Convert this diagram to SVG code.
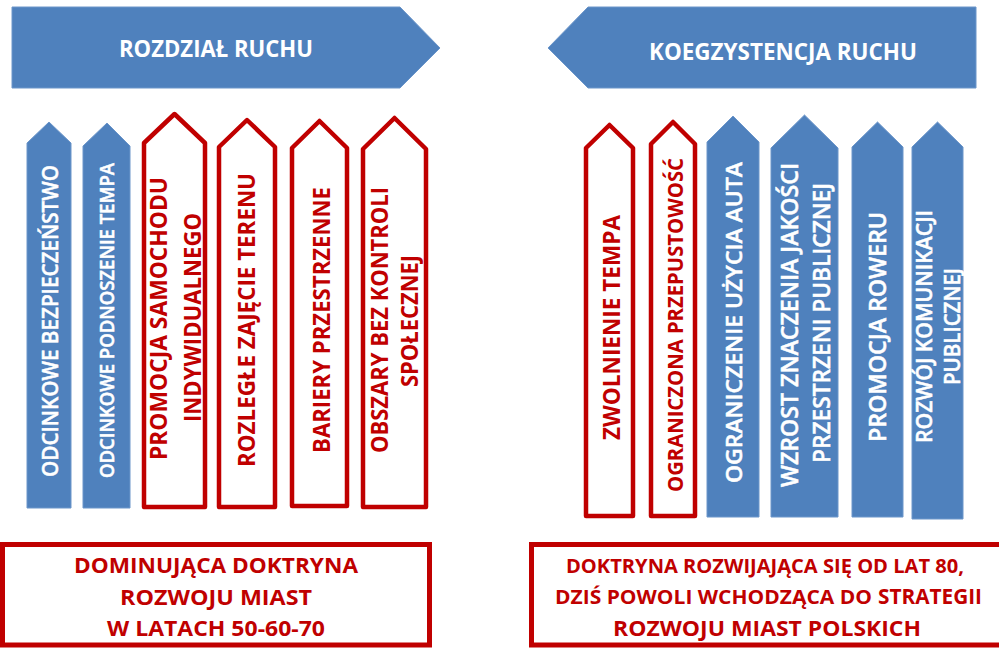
<svg xmlns="http://www.w3.org/2000/svg" width="999" height="648" viewBox="0 0 999 648">
<style>
.bg{fill:#ffffff}
.blue{fill:#4F81BD;stroke:#6C96CA;stroke-width:1}
.red{fill:#ffffff;stroke:#C00000;stroke-width:4.5;stroke-linejoin:round}
.box{fill:#ffffff;stroke:#C00000;stroke-width:5}
text{font-family:"Open Sans","Noto Sans","Liberation Sans",sans-serif;text-anchor:middle}
.wt{fill:#ffffff;font-weight:600;stroke:#ffffff;stroke-width:0.5}
.wb{fill:#ffffff;font-weight:700;font-size:23px}
.rt{fill:#C00000;font-weight:700}
</style>
<rect class="bg" x="0" y="0" width="999" height="648"/>

<g id="rozdzial-ruchu">
<path class="blue" d="M12,7 L400,7 L440,48 L400,88 L12,88 Z"/>
<text class="wb" x="216" y="57" textLength="194" lengthAdjust="spacingAndGlyphs">ROZDZIAŁ RUCHU</text>
</g>
<g id="koegzystencja-ruchu">
<path class="blue" d="M548,48 L588,7 L976,7 L976,88 L588,88 Z"/>
<text class="wb" x="783" y="60" textLength="268" lengthAdjust="spacingAndGlyphs">KOEGZYSTENCJA RUCHU</text>
</g>

<g id="col1">
<path class="blue" d="M27,508 L27,143 L49,122 L71,143 L71,508 Z"/>
<text class="wt" font-size="22" transform="translate(58,321) rotate(-90)" textLength="312" lengthAdjust="spacingAndGlyphs">ODCINKOWE BEZPIECZEŃSTWO</text>
</g>
<g id="col2">
<path class="blue" d="M83,508 L83,146 L107,123 L130,146 L130,508 Z"/>
<text class="wt" font-size="20" transform="translate(114,320.5) rotate(-90)" textLength="315" lengthAdjust="spacingAndGlyphs">ODCINKOWE PODNOSZENIE TEMPA</text>
</g>
<g id="col3">
<path class="red" d="M144,507 L144,143 L174.5,114 L205,143 L205,507 Z"/>
<text class="rt" font-size="24" transform="translate(167,318.5) rotate(-90)" textLength="283" lengthAdjust="spacingAndGlyphs">PROMOCJA SAMOCHODU</text>
<text class="rt" font-size="24" transform="translate(201,317.5) rotate(-90)" textLength="209" lengthAdjust="spacingAndGlyphs">INDYWIDUALNEGO</text>
</g>
<g id="col4">
<path class="red" d="M219,507 L219,147 L247,120 L275,147 L275,507 Z"/>
<text class="rt" font-size="24" transform="translate(255,320) rotate(-90)" textLength="294" lengthAdjust="spacingAndGlyphs">ROZLEGŁE ZAJĘCIE TERENU</text>
</g>
<g id="col5">
<path class="red" d="M292,506 L292,148 L319.5,121 L347,148 L347,506 Z"/>
<text class="rt" font-size="24" transform="translate(330,320) rotate(-90)" textLength="266" lengthAdjust="spacingAndGlyphs">BARIERY PRZESTRZENNE</text>
</g>
<g id="col6">
<path class="red" d="M363,507 L363,149 L394.5,118 L426,149 L426,507 Z"/>
<text class="rt" font-size="24" transform="translate(388,320) rotate(-90)" textLength="266" lengthAdjust="spacingAndGlyphs">OBSZARY BEZ KONTROLI</text>
<text class="rt" font-size="24" transform="translate(418,321) rotate(-90)" textLength="132" lengthAdjust="spacingAndGlyphs">SPOŁECZNEJ</text>
</g>

<g id="col7">
<path class="red" d="M586,516 L586,148 L609.5,125 L633,148 L633,516 Z"/>
<text class="rt" font-size="24" transform="translate(620,327.5) rotate(-90)" textLength="225" lengthAdjust="spacingAndGlyphs">ZWOLNIENIE TEMPA</text>
</g>
<g id="col8">
<path class="red" d="M651,516 L651,144 L673,122 L695,144 L695,516 Z"/>
<text class="rt" font-size="22" transform="translate(683,325) rotate(-90)" textLength="334" lengthAdjust="spacingAndGlyphs">OGRANICZONA PRZEPUSTOWOŚĆ</text>
</g>
<g id="col9">
<path class="blue" d="M707,517 L707,142 L733,116 L759,142 L759,517 Z"/>
<text class="wt" font-size="22" transform="translate(742,322.5) rotate(-90)" textLength="321" lengthAdjust="spacingAndGlyphs">OGRANICZENIE UŻYCIA AUTA</text>
</g>
<g id="col10">
<path class="blue" d="M771,517 L771,148 L804.5,115 L838,148 L838,517 Z"/>
<text class="wt" font-size="23" transform="translate(798,325) rotate(-90)" textLength="324" lengthAdjust="spacingAndGlyphs">WZROST ZNACZENIA JAKOŚCI</text>
<text class="wt" font-size="23" transform="translate(830,323) rotate(-90)" textLength="280" lengthAdjust="spacingAndGlyphs">PRZESTRZENI PUBLICZNEJ</text>
</g>
<g id="col11">
<path class="blue" d="M852,517 L852,147 L877.5,122 L903,147 L903,517 Z"/>
<text class="wt" font-size="23" transform="translate(886,327) rotate(-90)" textLength="230" lengthAdjust="spacingAndGlyphs">PROMOCJA ROWERU</text>
</g>
<g id="col12">
<path class="blue" d="M912,519 L912,147 L937.5,122 L963,147 L963,519 Z"/>
<text class="wt" font-size="21" transform="translate(932,326.5) rotate(-90)" textLength="233" lengthAdjust="spacingAndGlyphs">ROZWÓJ KOMUNIKACJI</text>
<text class="wt" font-size="21" transform="translate(960,326.5) rotate(-90)" textLength="117" lengthAdjust="spacingAndGlyphs">PUBLICZNEJ</text>
</g>

<g id="doktryna-dominujaca">
<rect class="box" x="2.5" y="544.5" width="427" height="100.5"/>
<text class="rt" font-size="21" x="216" y="573" textLength="284" lengthAdjust="spacingAndGlyphs">DOMINUJĄCA DOKTRYNA</text>
<text class="rt" font-size="21" x="216" y="605" textLength="192" lengthAdjust="spacingAndGlyphs">ROZWOJU MIAST</text>
<text class="rt" font-size="21" x="216" y="636" textLength="218" lengthAdjust="spacingAndGlyphs">W LATACH 50-60-70</text>
</g>
<g id="doktryna-rozwijajaca">
<rect class="box" x="531.5" y="544.5" width="480" height="100.5"/>
<text class="rt" font-size="20" x="765" y="573" textLength="398" lengthAdjust="spacingAndGlyphs">DOKTRYNA ROZWIJAJĄCA SIĘ OD LAT 80,</text>
<text class="rt" font-size="19" x="555" y="604" style="text-anchor:start" textLength="317" lengthAdjust="spacingAndGlyphs">DZIŚ POWOLI WCHODZĄCA DO</text>
<text class="rt" font-size="21" x="878" y="604" style="text-anchor:start" textLength="104" lengthAdjust="spacingAndGlyphs">STRATEGII</text>
<text class="rt" font-size="22" x="767" y="636" textLength="308" lengthAdjust="spacingAndGlyphs">ROZWOJU MIAST POLSKICH</text>
</g>
</svg>
